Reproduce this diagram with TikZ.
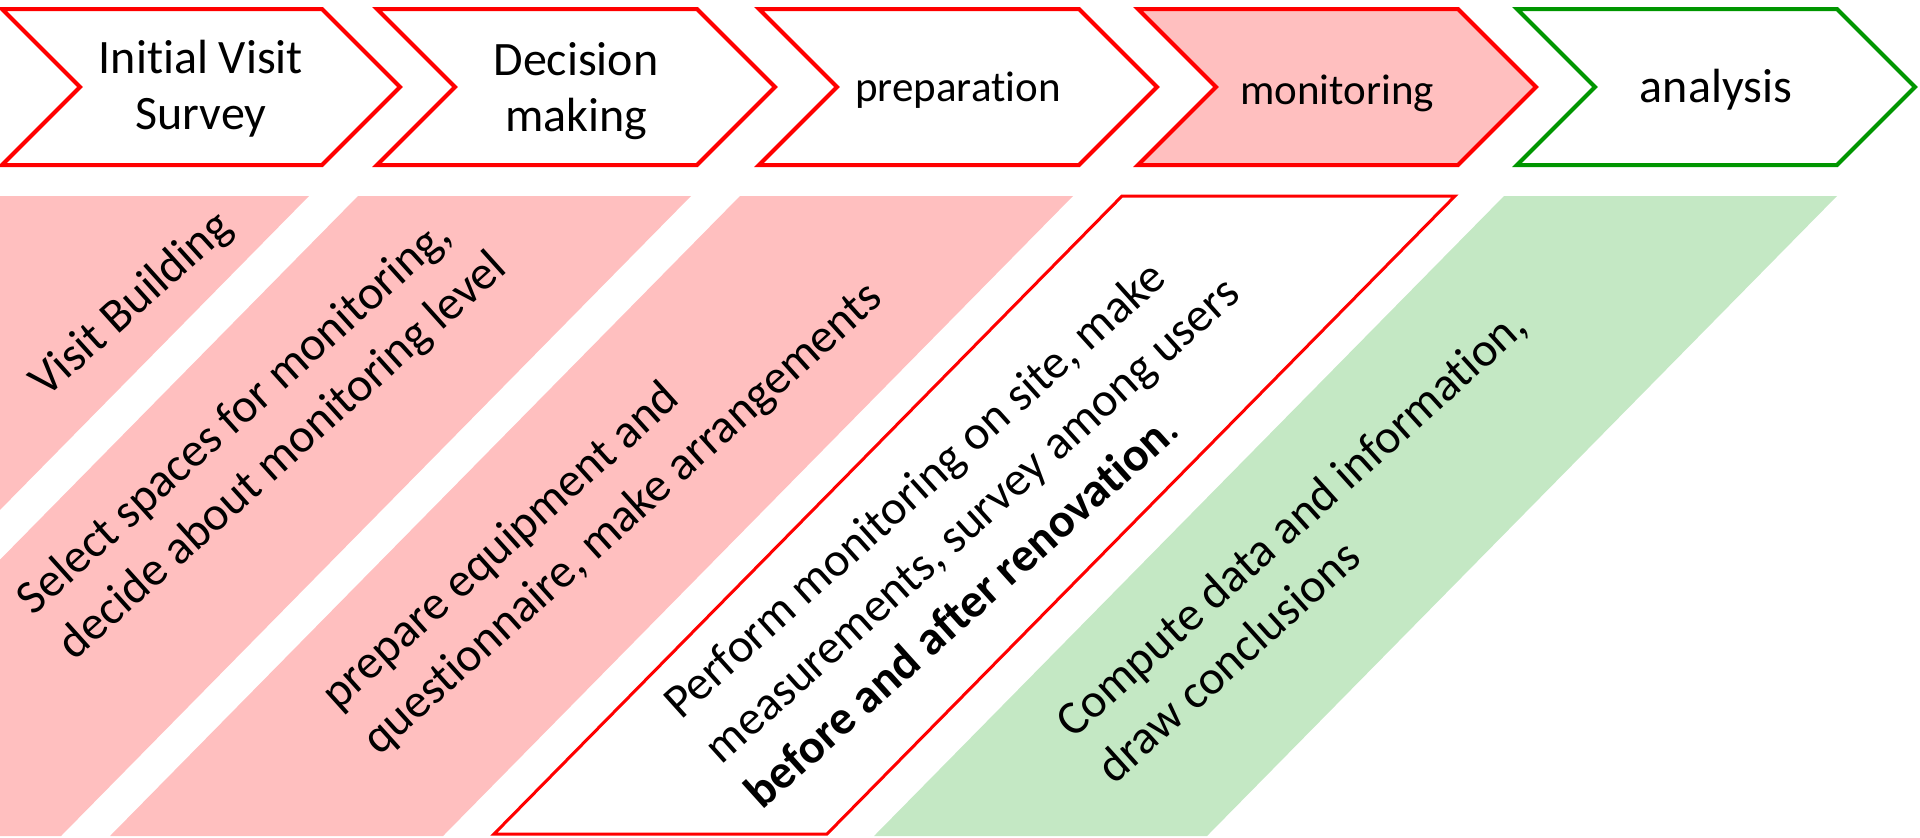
\documentclass[tikz,border=0pt]{standalone}
\usepackage{fontspec}
\setmainfont{Carlito}[Ligatures=NoCommon]
\definecolor{stagered}{RGB}{255,0,0}
\definecolor{stagegreen}{RGB}{0,150,0}
\definecolor{pinkfill}{RGB}{255,191,191}
\definecolor{greenfill}{RGB}{196,232,196}
\tikzset{
	stage/.style={draw=stagered, line width=2pt, fill=white},
	stagehl/.style={stage, fill=pinkfill},
	stagegn/.style={stage, draw=stagegreen},
	band/.style={fill=pinkfill},
	bandgn/.style={fill=greenfill},
	bandhl/.style={draw=stagered, line width=1.5pt, fill=white},
	stagetext/.style={inner sep=0pt, align=center, font=\fontsize{24}{28}\selectfont},
	smalltext/.style={stagetext, anchor=base, font=\fontsize{21.5}{26}\selectfont},
	bandtext/.style={inner sep=0pt, align=left, rotate=42, font=\fontsize{24}{30.5}\selectfont}
}
\begin{document}
\begin{tikzpicture}[x=0.5pt, y=-0.5pt]
			    \useasboundingbox (0,0) rectangle (1920,837);
			    \clip (0,0) rectangle (1920,837);
			    
			    \foreach \l/\s in {-24/band, 358/band, 740/band, 1504/bandgn}
			        \fill [\s] (\l,196) -- ++(333,0) -- ++(-630,640) -- ++(-333,0) -- cycle;
			    \draw [bandhl] (1122,196) -- ++(333,0) -- ++(-628,638) -- ++(-333,0) -- cycle;
			    
			    \foreach \x/\s in {2/stage, 377/stage, 759/stage, 1138/stagehl, 1517/stagegn}
			        \draw [\s] (\x,9) -- ++(320,0) -- ++(78,78) -- ++(-78,78) -- ++(-320,0) -- ++(78,-78) -- cycle;
			    
			    \node [stagetext] at (201,89) (s1) {Initial Visit\\Survey};
			    \node [stagetext] at (576,91) (s2) {Decision\\making};
			    \node [smalltext] at (958,101) (s3) {preparation};
			    \node [smalltext] at (1337,104) (s4) {monitoring};
			    \node [stagetext, anchor=base] at (1716,102) (s5) {analysis};
			    
			    \node [bandtext] at (132,305) (t1) {Visit Building};
			    \node [bandtext] at (263,434) (t2) {Select spaces for monitoring,\\decide about monitoring level};
			    \node [bandtext] at (603,497) (t3) {prepare equipment and\\questionnaire, make arrangements};
			    \node [bandtext] at (971,519) (t4) {Perform monitoring on site, make\\measurements, survey among users\\\textbf{before and after renovation}.};
			    \node [bandtext] at (1311,545) (t5) {Compute data and information,\\draw conclusions};
\end{tikzpicture}
\end{document}
